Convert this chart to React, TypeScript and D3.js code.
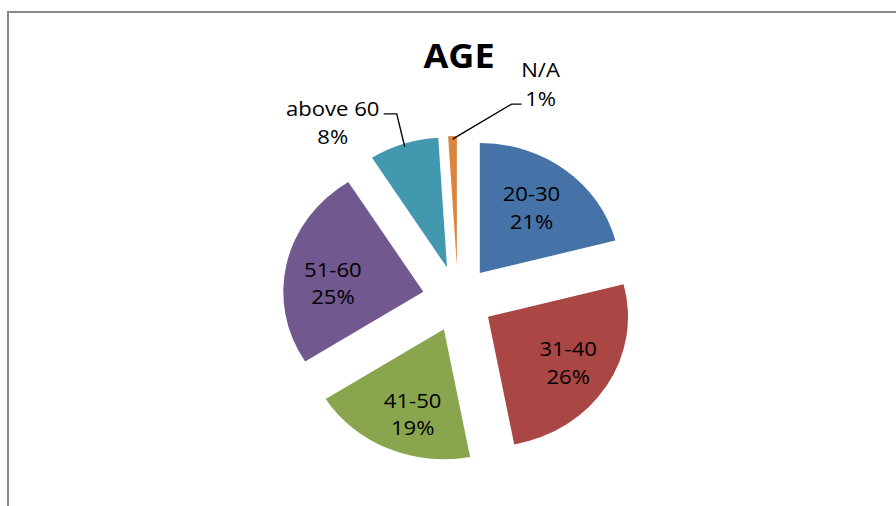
import React from 'react';
import * as d3 from 'd3';

// age groups and their share of respondents (%)
const categories = ["20-30", "31-40", "41-50", "51-60", "above 60", "N/A"];
const shares = [21, 26, 19, 25, 8, 1];
const colors = ["#4572A7", "#AA4643", "#89A54E", "#71588F", "#4198AF", "#DB843D"];
const title = "AGE";

// small slices get their labels outside with a leader line
const outsideLabels: Record<string, { elbow: [number, number]; tick: number; textDx: number; lines: [number, number] }> = {
  "above 60": { elbow: [-8, -33], tick: -13, textDx: -64, lines: [2, 30] },
  "N/A": { elbow: [59, -35], tick: 10, textDx: 29, lines: [-27, 2] },
};

const width = 896;
const height = 506;
const cx = 458;
const cy = 299;
const radius = 130;
const sx = 1.077; // the picture is a bit wider than tall
const explode = 33;
const labelR = 118;
const labelTurn = -2.5 * Math.PI / 180;
const labelDy = 5;
const font = "'Open Sans', 'Noto Sans', sans-serif";

const App: React.FC = () => {
  const total = d3.sum(shares);
  const pie = d3.pie<number>().sort(null).value(d => d);
  const arcs = pie(shares);
  const arc = d3.arc<d3.PieArcDatum<number>>().innerRadius(0).outerRadius(radius);

  // point at angle a, distance r from pie center (after the x stretch)
  const polar = (a: number, r: number): [number, number] => [cx + sx * r * Math.sin(a), cy - r * Math.cos(a)];

  return (
    <svg width={width} height={height} style={{ position: 'absolute', left: 0, top: 0 }}>
      <rect x={8} y={12} width={width + 20} height={height + 20} fill="#fff" stroke="#888" strokeWidth={2} />
      <text
        transform={`translate(459,68) scale(${sx},1)`}
        textAnchor="middle"
        fontFamily={font}
        fontWeight="bold"
        fontSize={33.5}
        fill="#000"
      >
        {title}
      </text>
      {arcs.map((a, i) => {
        const mid = (a.startAngle + a.endAngle) / 2;
        const [ox, oy] = [sx * explode * Math.sin(mid), -explode * Math.cos(mid)];
        return (
          <path
            key={categories[i]}
            d={arc(a) as string}
            fill={colors[i]}
            transform={`translate(${cx + ox},${cy + oy}) scale(${sx},1)`}
          />
        );
      })}
      {arcs.map((a, i) => {
        const name = categories[i];
        const pct = `${Math.round((shares[i] / total) * 100)}%`;
        const mid = (a.startAngle + a.endAngle) / 2;
        const out = outsideLabels[name];
        if (!out) {
          const [lx, ly] = polar(mid + labelTurn, labelR);
          return (
            <text
              key={name}
              transform={`translate(${lx},${ly + labelDy}) scale(${sx},1)`}
              textAnchor="middle"
              fontFamily={font}
              fontSize={20.5}
              fill="#000"
            >
              <tspan x={0} y={-6.4}>{name}</tspan>
              <tspan x={0} y={21.1}>{pct}</tspan>
            </text>
          );
        }
        const [px, py] = polar(mid, explode + radius - 3);
        const ex = px + out.elbow[0];
        const ey = py + out.elbow[1];
        const line = d3.line()([[px, py], [ex, ey], [ex + out.tick, ey]]) as string;
        return (
          <g key={name}>
            <path d={line} fill="none" stroke="#000" strokeWidth={1.4} />
            <text
              transform={`translate(${ex + out.textDx},${ey}) scale(${sx},1)`}
              textAnchor="middle"
              fontFamily={font}
              fontSize={20.5}
              fill="#000"
            >
              <tspan x={0} y={out.lines[0]}>{name}</tspan>
              <tspan x={0} y={out.lines[1]}>{pct}</tspan>
            </text>
          </g>
        );
      })}
    </svg>
  );
};

export default App;
